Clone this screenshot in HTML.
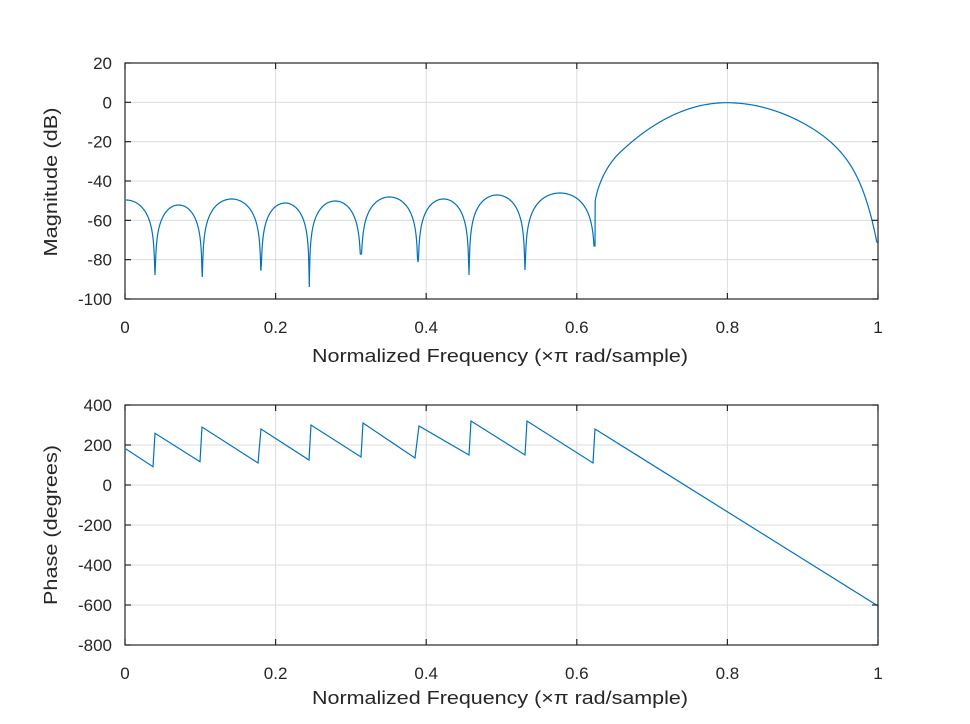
<!DOCTYPE html>
<html><head><meta charset="utf-8"><style>
html,body{margin:0;padding:0;background:#fff}
svg{display:block}
text{font-family:"Liberation Sans",sans-serif;fill:#262626}
</style></head><body>
<svg id="s" width="970" height="724" viewBox="0 0 970 724" xmlns="http://www.w3.org/2000/svg">
<rect width="970" height="724" fill="#fff"/>
<g id="grid" stroke="#dcdcdc" stroke-width="1"></g>
<path id="mag" fill="none" stroke="#0072bd" stroke-width="1.2"/>
<path id="ph" fill="none" stroke="#0072bd" stroke-width="1.2" d="M126,449 L153,466.7 L155,433.3 L200,461.7 L202,427 L258,463 L261,429 L309,460 L311,425 L361,457 L363,423 L415,458 L419,426 L469,455 L471,421 L525,455 L527,421 L593,463 L595,429 L878,606 L878,637"/>
<g id="axes" stroke="#262626" stroke-width="1.2" fill="none"></g>
<g id="labels" font-size="17"></g>
<text x="500" y="362" font-size="18" text-anchor="middle" textLength="376" lengthAdjust="spacingAndGlyphs">Normalized Frequency (×π rad/sample)</text>
<text x="500" y="704" font-size="18" text-anchor="middle" textLength="376" lengthAdjust="spacingAndGlyphs">Normalized Frequency (×π rad/sample)</text>
<text transform="translate(57,182) rotate(-90)" font-size="18" text-anchor="middle" textLength="149" lengthAdjust="spacingAndGlyphs">Magnitude (dB)</text>
<text transform="translate(57,525) rotate(-90)" font-size="18" text-anchor="middle" textLength="160" lengthAdjust="spacingAndGlyphs">Phase (degrees)</text>
</svg>
<script>
var NS="http://www.w3.org/2000/svg";
var L=125,R=878;
var P=[{t:63,b:299,v:[20,0,-20,-40,-60,-80,-100]},{t:405,b:645,v:[400,200,0,-200,-400,-600,-800]}];
var g=document.getElementById('grid'),a=document.getElementById('axes'),lb=document.getElementById('labels');
function el(p,tag,at,txt){var e=document.createElementNS(NS,tag);for(var k in at)e.setAttribute(k,at[k]);if(txt!=null)e.textContent=txt;p.appendChild(e);return e;}
P.forEach(function(p){
 var n=p.v.length;
 for(var i=0;i<n;i++){var y=p.t+(p.b-p.t)*i/(n-1);
  if(i>0&&i<n-1)el(g,'line',{x1:L,x2:R,y1:y,y2:y});
  el(a,'line',{x1:L,x2:L+6,y1:y,y2:y});el(a,'line',{x1:R-6,x2:R,y1:y,y2:y});
  el(lb,'text',{x:112,y:y+6,'text-anchor':'end'},String(p.v[i]));}
 var xs=['0','0.2','0.4','0.6','0.8','1'];
 for(var j=0;j<6;j++){var x=L+(R-L)*j/5;
  if(j>0&&j<5)el(g,'line',{x1:x,x2:x,y1:p.t,y2:p.b});
  el(a,'line',{x1:x,x2:x,y1:p.t,y2:p.t+6});el(a,'line',{x1:x,x2:x,y1:p.b-6,y2:p.b});
  el(lb,'text',{x:x,y:p.b+34,'text-anchor':'middle'},xs[j]);}
 el(a,'rect',{x:L,y:p.t,width:R-L,height:p.b-p.t});
});
var k=1.965;
var nulls=[[97,0],[155,275],[202.3,277],[261,270],[309.3,287],[361,254],[418,262],[469,275],[525,270],[595,246]];
var peaks=[200,205,199,203,201,197,199,195,193,185];
var pts=[];
for(var i=0;i<nulls.length-1;i++){
 var x0=nulls[i][0],x1=nulls[i+1][0],pk=peaks[i],d1=nulls[i+1][1],d0=nulls[i][1];
 for(var x=Math.max(x0,126);x<=x1;x+=0.5){
  var s=Math.abs(Math.sin(Math.PI*(x-x0)/(x1-x0)));
  var y=pk-k*20*Math.log10(Math.max(s,1e-6));
  var lim=(x-x0)<(x1-x0)/2?(d0||999):d1;
  if(y>lim)y=lim;pts.push([x,y]);}
}
for(var x=595.2;x<=878;x+=0.4){
 var f=(x-125)/752,d=Math.abs(f-0.8),dB;
 if(f<0.8){dB=-(1246*d*d+35500*Math.pow(d,6));var u=Math.min(1,Math.max(0,(0.1785-d)/0.035));dB+=20*Math.log10(Math.max(0.02,Math.sin(Math.PI/2*u)))*0.7;if(dB<-73)dB=-73;}
 else{dB=-(998*d*d+20000*Math.pow(d,6)+2.95e8*Math.pow(d,10));if(dB<-71)dB=-71;}
 pts.push([x,102.7-dB*k]);}
pts.push([878,243]);
document.getElementById('mag').setAttribute('d','M'+pts.map(function(p){return p[0].toFixed(1)+','+p[1].toFixed(1)}).join(' L'));
</script>
</body></html>
